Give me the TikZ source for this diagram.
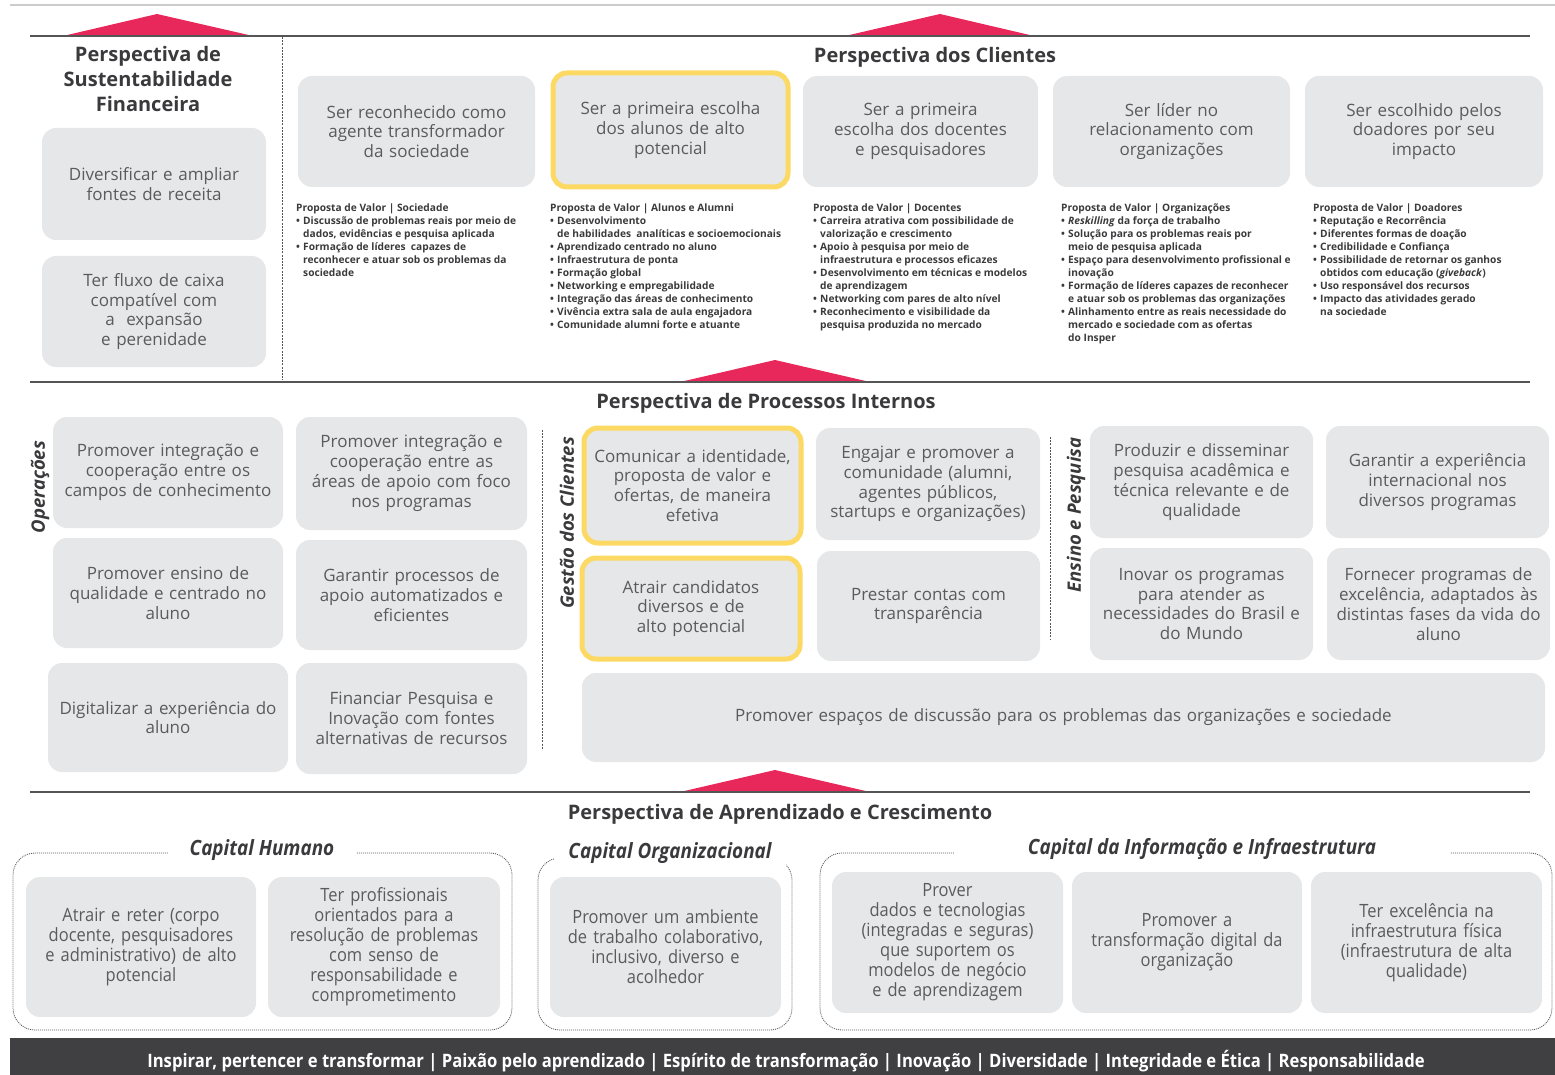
\documentclass[tikz,border=0pt]{standalone}
\usepackage{fontspec}
\setmainfont{Open Sans}
\newfontfamily\condf[FakeStretch=0.9]{Open Sans}
\definecolor{boxg}{HTML}{E6E7E8}
\definecolor{txtg}{HTML}{5B5B5E}
\definecolor{hdr}{HTML}{3A3A3C}
\definecolor{ylw}{HTML}{FCD962}
\definecolor{rd}{HTML}{E8285A}
\definecolor{barg}{HTML}{404042}
\definecolor{lng}{HTML}{555555}
\tikzset{
 boxs/.style={fill=boxg, rounded corners=14pt, text=txtg, align=center, inner sep=0pt, font=\fontsize{17}{19.8}\selectfont},
 ybox/.style={boxs, draw=ylw, line width=5pt},
 cbox/.style={boxs, font=\condf\fontsize{18.3}{20}\selectfont},
 grp/.style={draw=lng, dash pattern=on 1pt off 1pt, line width=0.8pt, rounded corners=22pt, inner sep=0pt},
 hdrs/.style={text=hdr, font=\fontsize{20}{25}\selectfont\bfseries, align=center, inner sep=0pt},
 vps/.style={text=hdr, font=\fontsize{10.2}{13}\selectfont\bfseries, align=left, anchor=north west, inner sep=0pt},
 rot/.style={text=hdr, rotate=90, font=\fontsize{18.5}{20}\selectfont\bfseries\itshape, inner sep=0pt},
 glab/.style={text=hdr, fill=white, font=\condf\fontsize{21}{24}\selectfont\bfseries\itshape, inner ysep=4pt},
 tri/.style={fill=rd, draw=none},
 mainln/.style={draw=lng, line width=1.3pt},
 vdot/.style={draw=lng, dash pattern=on 2pt off 1.2pt, line width=0.9pt},
}
\newcommand{\rbox}[7][boxs]{%
 \pgfmathsetmacro{\rbW}{#5-#3}\pgfmathsetmacro{\rbH}{#6-#4}%
 \pgfmathsetmacro{\rbX}{(#3+#5)/2}\pgfmathsetmacro{\rbY}{(#4+#6)/2}%
 \pgfmathsetmacro{\rbT}{#5-#3-6}%
 \node[#1, minimum width=\rbW pt, minimum height=\rbH pt, text width=\rbT pt] (#2) at (\rbX,\rbY) {#7};}
\newcommand{\bl}{\makebox[7pt][l]{•}}
\newcommand{\ct}{\hspace*{7pt}}
\begin{document}
\begin{tikzpicture}[x=1pt,y=-1pt]
\useasboundingbox (0,0) rectangle (1555,1075);
% top light line
\draw[draw=black!20, line width=1.5pt] (10,5) coordinate (tl0) -- (1555,5) coordinate (tl1);
% triangles and main lines
\fill[tri] (63,36) -- (157,14) -- (253,36) -- cycle;
\fill[tri] (845,36) -- (940,14) -- (1034,36) -- cycle;
\draw[mainln] (30,36) -- (1530,36);
\draw[vdot] (282,37) -- (282,380);
\fill[tri] (680,382) -- (775,360) -- (870,382) -- cycle;
\draw[mainln] (30,382) -- (1530,382);
\fill[tri] (680,792) -- (775,770) -- (870,792) -- cycle;
\draw[mainln] (30,792) -- (1530,792);

% Financial perspective
\node[hdrs] (hfin) at (148,79) {Perspectiva de\\Sustentabilidade\\Financeira};
\rbox{f1}{42}{128}{266}{240}{Diversificar e ampliar\\fontes de receita}
\rbox{f2}{42}{256}{266}{367}{Ter fluxo de caixa\\compatível com\\a \ expansão\\e perenidade}

% Clients perspective
\node[hdrs] (hcli) at (935,57) {Perspectiva dos Clientes};
\rbox{c1}{298}{76}{535}{187}{Ser reconhecido como\\agente transformador\\da sociedade}
\rbox[ybox]{c2}{553}{73}{788}{187}{Ser a primeira escolha\\dos alunos de alto\\potencial}
\rbox{c3}{803}{76}{1038}{187}{Ser a primeira\\escolha dos docentes\\e pesquisadores}
\rbox{c4}{1053}{76}{1290}{187}{Ser líder no\\relacionamento com\\organizações}
\rbox{c5}{1305}{76}{1543}{187}{Ser escolhido pelos\\doadores por seu\\impacto}

\node[vps] (vp1) at (296,204) {Proposta de Valor | Sociedade\\
\bl Discussão de problemas reais por meio de\\
\ct dados, evidências e pesquisa aplicada\\
\bl Formação de líderes \ capazes de\\
\ct reconhecer e atuar sob os problemas da\\
\ct sociedade};
\node[vps] (vp2) at (550,204) {Proposta de Valor | Alunos e Alumni\\
\bl Desenvolvimento\\
\ct de habilidades \ analíticas e socioemocionais\\
\bl Aprendizado centrado no aluno\\
\bl Infraestrutura de ponta\\
\bl Formação global\\
\bl Networking e empregabilidade\\
\bl Integração das áreas de conhecimento\\
\bl Vivência extra sala de aula engajadora\\
\bl Comunidade alumni forte e atuante};
\node[vps] (vp3) at (813,204) {Proposta de Valor | Docentes\\
\bl Carreira atrativa com possibilidade de\\
\ct valorização e crescimento\\
\bl Apoio à pesquisa por meio de\\
\ct infraestrutura e processos eficazes\\
\bl Desenvolvimento em técnicas e modelos\\
\ct de aprendizagem\\
\bl Networking com pares de alto nível\\
\bl Reconhecimento e visibilidade da\\
\ct pesquisa produzida no mercado};
\node[vps] (vp4) at (1061,204) {Proposta de Valor | Organizações\\
\bl \textit{Reskilling} da força de trabalho\\
\bl Solução para os problemas reais por\\
\ct meio de pesquisa aplicada\\
\bl Espaço para desenvolvimento profissional e\\
\ct inovação\\
\bl Formação de líderes capazes de reconhecer\\
\ct e atuar sob os problemas das organizações\\
\bl Alinhamento entre as reais necessidade do\\
\ct mercado e sociedade com as ofertas\\
\ct do Insper};
\node[vps] (vp5) at (1313,204) {Proposta de Valor | Doadores\\
\bl Reputação e Recorrência\\
\bl Diferentes formas de doação\\
\bl Credibilidade e Confiança\\
\bl Possibilidade de retornar os ganhos\\
\ct obtidos com educação (\textit{giveback})\\
\bl Uso responsável dos recursos\\
\bl Impacto das atividades gerado\\
\ct na sociedade};

% Internal processes
\node[hdrs] (hint) at (766,403) {Perspectiva de Processos Internos};
\node[rot] (rop) at (40,487) {Operações};
\rbox{o1}{53}{417}{283}{528}{Promover integração e\\cooperação entre os\\campos de conhecimento}
\rbox{o2}{296}{417}{527}{530}{Promover integração e\\cooperação entre as\\áreas de apoio com foco\\nos programas}
\rbox{o3}{53}{538}{283}{648}{Promover ensino de\\qualidade e centrado no\\aluno}
\rbox{o4}{296}{540}{527}{650}{Garantir processos de\\apoio automatizados e\\eficientes}
\rbox{o5}{48}{663}{288}{772}{Digitalizar a experiência do\\aluno}
\rbox{o6}{296}{663}{527}{774}{Financiar Pesquisa e\\Inovação com fontes\\alternativas de recursos}

\draw[vdot] (542,430) -- (542,750);
\node[rot] (rgc) at (567,523) {Gestão dos Clientes};
\rbox[ybox]{g1}{584}{428}{801}{543}{Comunicar a identidade,\\proposta de valor e\\ofertas, de maneira\\efetiva}
\rbox{g2}{816}{428}{1040}{540}{Engajar e promover a\\comunidade (alumni,\\agentes públicos,\\startups e organizações)}
\rbox[ybox]{g3}{582}{558}{800}{659}{Atrair candidatos\\diversos e de\\alto potencial}
\rbox{g4}{817}{551}{1040}{661}{Prestar contas com\\transparência}

\draw[vdot] (1050,437) -- (1050,640);
\node[rot] (rep) at (1076,515) {Ensino e Pesquisa};
\rbox{e1}{1090}{426}{1313}{538}{Produzir e disseminar\\pesquisa acadêmica e\\técnica relevante e de\\qualidade}
\rbox{e2}{1326}{426}{1549}{538}{Garantir a experiência\\internacional nos\\diversos programas}
\rbox{e3}{1090}{548}{1313}{660}{Inovar os programas\\para atender as\\necessidades do Brasil e\\do Mundo}
\rbox{e4}{1327}{548}{1550}{660}{Fornecer programas de\\excelência, adaptados às\\distintas fases da vida do\\aluno}
\rbox{w1}{582}{673}{1545}{762}{Promover espaços de discussão para os problemas das organizações e sociedade}

% Learning and growth
\node[hdrs] (hlrn) at (780,814) {Perspectiva de Aprendizado e Crescimento};
\rbox[grp]{gr1}{13}{853}{512}{1030}{}
\rbox[grp]{gr2}{538}{858}{792}{1030}{}
\rbox[grp]{gr3}{820}{853}{1552}{1030}{}
\node[glab, inner xsep=22pt] (l1) at (262,850) {Capital Humano};
\node[glab, inner xsep=14pt, inner ysep=8pt] (l2) at (670,853) {Capital Organizacional};
\node[glab, inner xsep=74pt] (l3) at (1202,849) {Capital da Informação e Infraestrutura};

\rbox[cbox]{b1}{26}{877}{256}{1017}{Atrair e reter (corpo\\docente, pesquisadores\\e administrativo) de alto\\potencial}
\rbox[cbox]{b2}{268}{877}{500}{1017}{Ter profissionais\\orientados para a\\resolução de problemas\\com senso de\\responsabilidade e\\comprometimento}
\rbox[cbox]{b3}{550}{877}{781}{1017}{Promover um ambiente\\de trabalho colaborativo,\\inclusivo, diverso e\\acolhedor}
\rbox[cbox]{b4}{832}{872}{1063}{1013}{Prover\\dados e tecnologias\\(integradas e seguras)\\que suportem os\\modelos de negócio\\e de aprendizagem}
\rbox[cbox]{b5}{1072}{872}{1302}{1013}{Promover a\\transformação digital da\\organização}
\rbox[cbox]{b6}{1311}{872}{1542}{1013}{Ter excelência na\\infraestrutura física\\(infraestrutura de alta\\qualidade)}

% bottom bar
\fill[barg] (10,1038) rectangle (1555,1075);
\node[text=white, font=\condf\fontsize{18.5}{20}\selectfont\bfseries, inner sep=0pt] (bar) at (786,1061) {Inspirar, pertencer e transformar | Paixão pelo aprendizado | Espírito de transformação | Inovação | Diversidade | Integridade e Ética | Responsabilidade};
\end{tikzpicture}
\end{document}
